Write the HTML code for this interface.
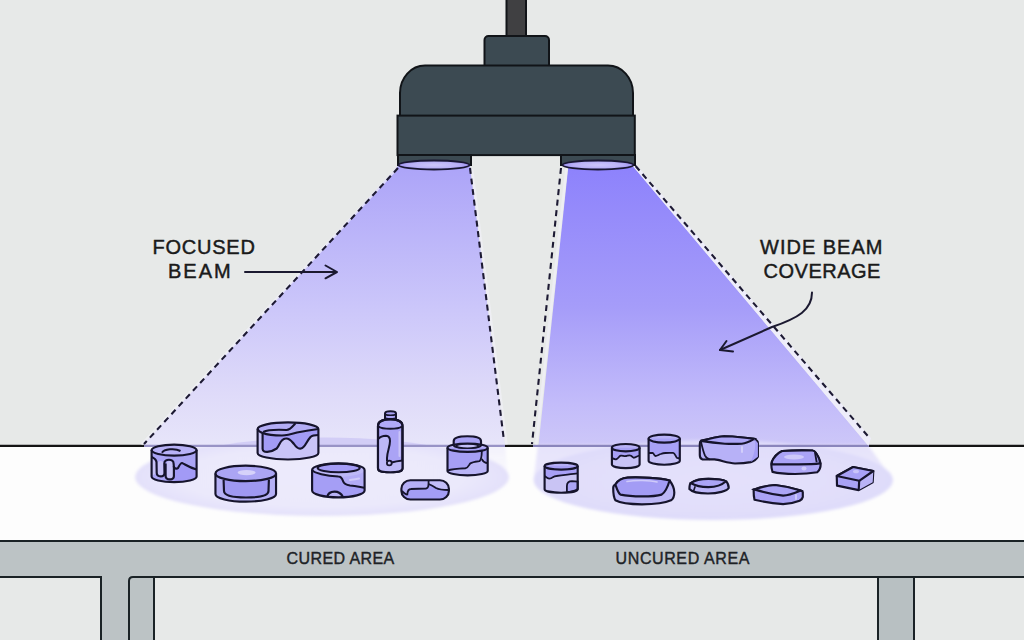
<!DOCTYPE html>
<html><head><meta charset="utf-8">
<style>
html,body{margin:0;padding:0;width:1024px;height:640px;overflow:hidden;background:#e7e9e8;}
svg{display:block;}
text{font-family:"Liberation Sans",sans-serif;}
</style></head>
<body>
<svg width="1024" height="640" viewBox="0 0 1024 640">
<defs>
  <linearGradient id="gL" x1="0" y1="166" x2="0" y2="446" gradientUnits="userSpaceOnUse">
    <stop offset="0" stop-color="#aca4f8"/>
    <stop offset="0.5" stop-color="#cbc6fa"/>
    <stop offset="0.82" stop-color="#dfdbf9"/>
    <stop offset="1" stop-color="#e7e5fa"/>
  </linearGradient>
  <linearGradient id="gR" x1="0" y1="166" x2="0" y2="446" gradientUnits="userSpaceOnUse">
    <stop offset="0" stop-color="#8d82fc"/>
    <stop offset="0.5" stop-color="#a59cf9"/>
    <stop offset="0.85" stop-color="#c3bcfa"/>
    <stop offset="1" stop-color="#cdc7f8"/>
  </linearGradient>
  <linearGradient id="extL" x1="0" y1="445" x2="0" y2="490" gradientUnits="userSpaceOnUse">
    <stop offset="0" stop-color="#ebe9fb"/>
    <stop offset="1" stop-color="#f0eefc" stop-opacity="0"/>
  </linearGradient>
  <linearGradient id="extR" x1="0" y1="445" x2="0" y2="490" gradientUnits="userSpaceOnUse">
    <stop offset="0" stop-color="#e6e3fb"/>
    <stop offset="1" stop-color="#eceafc"/>
  </linearGradient>
  <radialGradient id="lampG" cx="0.5" cy="0.5" r="0.5">
    <stop offset="0" stop-color="#cdc6fb"/>
    <stop offset="0.7" stop-color="#b9b0f7"/>
    <stop offset="1" stop-color="#9c92ee"/>
  </radialGradient>
  <radialGradient id="glowL" cx="0.5" cy="0.5" r="0.5">
    <stop offset="0" stop-color="#eceafc"/>
    <stop offset="0.75" stop-color="#ebe9fb"/>
    <stop offset="1" stop-color="#e3e0fa"/>
  </radialGradient>
  <radialGradient id="glowR" cx="0.5" cy="0.5" r="0.5">
    <stop offset="0" stop-color="#e4e1fb"/>
    <stop offset="0.8" stop-color="#e1defa"/>
    <stop offset="1" stop-color="#dedbfa"/>
  </radialGradient>
  <filter id="soft" x="-10%" y="-30%" width="120%" height="160%"><feGaussianBlur stdDeviation="1.5"/></filter>
</defs>

<!-- wall -->
<rect x="0" y="0" width="1024" height="640" fill="#e7e9e8"/>
<!-- table top -->
<rect x="0" y="445.5" width="1024" height="96" fill="#fdfdfd"/>
<!-- table band -->
<rect x="0" y="541" width="1024" height="36" fill="#bcc3c5"/>
<!-- legs -->
<rect x="101" y="576" width="53" height="70" fill="#bcc3c5"/>
<rect x="878" y="576" width="36" height="70" fill="#b8c0c2"/>
<g stroke="#1a2226" stroke-width="2" fill="none">
  <line x1="0" y1="541" x2="1024" y2="541"/>
  <path d="M0 577 H101 V640"/>
  <path d="M129 640 V581 Q129 577 133 577 H1024"/>
  <line x1="154" y1="577" x2="154" y2="640"/>
  <line x1="878" y1="577" x2="878" y2="640"/>
  <line x1="914" y1="577" x2="914" y2="640"/>
</g>

<!-- beams -->
<polygon points="398,166 470,166 505,445 143,445" fill="url(#gL)"/>
<polygon points="568.4,166 632.8,166 868.4,445.8 538.4,445.8" fill="url(#gR)"/>

<!-- glow on table -->
<g filter="url(#soft)">
  <path d="M170 445 L505 445 L508 478 L135 478 Z" fill="url(#extL)" opacity="0.6"/>
  <ellipse cx="322" cy="477" rx="187" ry="39" fill="url(#glowL)"/>
  <path d="M538 445 L868 445 L893 480 L533.5 480 Z" fill="url(#extR)"/>
  <ellipse cx="713.3" cy="480" rx="179.7" ry="40" fill="url(#glowR)"/>
</g>

<clipPath id="aboveL"><rect x="0" y="400" width="1024" height="45.5"/></clipPath>
<ellipse cx="325" cy="477" rx="175" ry="39.5" fill="#d2cdf6" clip-path="url(#aboveL)"/>
<!-- table line -->
<g stroke-width="2.2">
  <line x1="0" y1="445.9" x2="144" y2="445.9" stroke="#141414"/>
  <line x1="144" y1="445.9" x2="505" y2="445.9" stroke="#9893c6" stroke-width="2.2"/>
  <line x1="505" y1="445.9" x2="533" y2="445.9" stroke="#141414"/>
  <line x1="533" y1="445.9" x2="869" y2="445.9" stroke="#8a85bc" stroke-width="2.2"/>
  <line x1="869" y1="445.9" x2="1024" y2="445.9" stroke="#141414"/>
</g>

<!-- dashed beam edges -->
<polygon points="632.8,166 636.5,165 871,438.3 868.4,445.8" fill="#eeedfa"/>
<g stroke="#f1f1f8" stroke-width="2.5" fill="none" opacity="0.7">
  <line x1="396.5" y1="169" x2="141.5" y2="444.5"/>
  <line x1="472" y1="169" x2="506.5" y2="444.5"/>
  <line x1="566.5" y1="168" x2="536.2" y2="444.5"/>
</g>
<g stroke="#1d1a33" stroke-width="2.1" stroke-dasharray="6 4.6" fill="none">
  <line x1="398" y1="168" x2="144" y2="444"/>
  <line x1="470" y1="168" x2="504" y2="441"/>
  <line x1="561" y1="168" x2="532" y2="444"/>
  <line x1="635.6" y1="166" x2="869.8" y2="438.3"/>
</g>

<!-- lamp -->
<g stroke="#111418" stroke-width="2" fill="#3c4a52">
  <rect x="506.5" y="-4" width="19.5" height="42" fill="#404042"/>
  <rect x="484.5" y="36" width="64.5" height="34" rx="4"/>
  <path d="M400 116 V93 A25 27.5 0 0 1 425 65.5 H608 A25 27.5 0 0 1 633 93 V116 Z"/>
  <rect x="397.5" y="115.6" width="237.3" height="39.5"/>
  <rect x="398" y="155" width="73" height="10"/>
  <rect x="561" y="155" width="74" height="10"/>
</g>
<ellipse cx="434" cy="165" rx="35.5" ry="4.5" fill="url(#lampG)" stroke="#191632" stroke-width="1.8"/>
<ellipse cx="598" cy="165" rx="35.5" ry="4.5" fill="url(#lampG)" stroke="#191632" stroke-width="1.8"/>

<!-- objects -->
<path d="M151.6 450.1 L151.6 476.6 A22.5 5.5 0 0 0 196.6 476.6 L196.6 450.1 Z" fill="#aaa4f4"/><ellipse cx="174.1" cy="450.1" rx="22.5" ry="5.5" fill="#b8b2f7"/><path d="M151.6 457 C154 458 156 459 156.5 462 L156.7 473 L151.6 476 Z" fill="#c6c1f6"/>
<rect x="157.5" y="461" width="6.2" height="15" rx="3" fill="#c6c1f6"/>
<rect x="166.6" y="461" width="6.6" height="18" rx="3.2" fill="#c6c1f6"/>
<path d="M173.9 467 C175 469 177 469 178 468 C179 466 180.5 463 182 463 C185 464 188 467 196.6 469.5 L196.6 478 A22.5 6 0 0 1 174 482 Z" fill="#a29af6"/>
<path d="M151.6 457 C154 458 156 459 156.5 462 L156.7 473 C157 477.5 164.5 477.5 164.5 473 L164.3 463.5 C164.3 458.5 173.6 458.5 173.6 463.5 L173.9 467 C175 469 177 469 178 468 C179 466 180.5 463 182 463 C185 464 188 467 196.6 469.5" fill="none" stroke="#16142c" stroke-width="2.15"/>
<path d="M165.6 463.5 L165.6 476 C165.8 480.5 173.9 480.5 173.9 476 L173.9 466" fill="none" stroke="#16142c" stroke-width="2.15"/>
<path d="M162 452.8 C164 449 175 448 180.5 451" fill="none" stroke="#16142c" stroke-width="2"/><path d="M151.6 450.1 L151.6 476.6 A22.5 5.5 0 0 0 196.6 476.6 L196.6 450.1" fill="none" stroke="#16142c" stroke-width="2.15"/><ellipse cx="174.1" cy="450.1" rx="22.5" ry="5.5" fill="none" stroke="#16142c" stroke-width="2.15"/>
<path d="M215.45 473.4 L215.45 494.0 A30.3 7.7 0 0 0 276.05 494.0 L276.05 473.4 Z" fill="#b5b0f5"/><ellipse cx="245.75" cy="473.4" rx="30.3" ry="7.7" fill="#aba5f4"/><path d="M223.6 480 L224 491 C224 496 235 497.5 246 497.5 C258 497.5 268.5 496 268.5 491 L268.9 479.5" fill="#9f98f2" stroke="#16142c" stroke-width="2.15"/>
<ellipse cx="246.6" cy="472.6" rx="9" ry="2.6" fill="#d6d2fa"/><path d="M215.45 473.4 L215.45 494.0 A30.3 7.7 0 0 0 276.05 494.0 L276.05 473.4" fill="none" stroke="#16142c" stroke-width="2.15"/><ellipse cx="245.75" cy="473.4" rx="30.3" ry="7.7" fill="none" stroke="#16142c" stroke-width="2.15"/>
<path d="M257.6 429.0 L257.6 452.9 A30.4 6.6 0 0 0 318.4 452.9 L318.4 429.0 Z" fill="#c9c4f7"/><ellipse cx="288" cy="429.0" rx="30.4" ry="6.6" fill="#b3adf5"/><path d="M257.6 429 C258 431 260 432 262.6 433 L262.6 449 C263 453 270 453 276.7 448.5 C280 445 280 439 285.7 438.5 C290 438 292 442 294 444 C296 447 299 449 301 448.5 C305 448 306 442 310.5 437 C312 435.5 315 435 318.4 435 L318.4 429 C310 430 302 431.5 297 432.5 C292 434 286 435.5 282 435.5 C275 435.5 268 435 262.6 433 Z" fill="#a39cf6"/>
<path d="M262.6 433 L262.6 449 C263 453 270 453 276.7 448.5 C280 445 280 439 285.7 438.5 C290 438 292 442 294 444 C296 447 299 449 301 448.5 C305 448 306 442 310.5 437 C312 435.5 315 435 318.4 435" fill="none" stroke="#16142c" stroke-width="2.15"/>
<path d="M257.6 429 C258 431 260 432 262.6 433 C268 435 275 435.5 282 435.5 C286 435.5 292 434 297 432.5 C302 431.5 310 430 318.4 429" fill="none" stroke="#16142c" stroke-width="2.15"/>
<path d="M263.2 432 C268 429.5 276 429.5 286.5 430 C290 430 293 426 295.5 423.3" fill="none" stroke="#16142c" stroke-width="2"/><path d="M257.6 429.0 L257.6 452.9 A30.4 6.6 0 0 0 318.4 452.9 L318.4 429.0" fill="none" stroke="#16142c" stroke-width="2.15"/><path d="M257.6 429.0 A30.4 6.6 0 0 1 318.4 429.0" fill="none" stroke="#16142c" stroke-width="2.15"/>
<path d="M312.1 470.0 L312.1 490.59999999999997 A26.25 6.8 0 0 0 364.6 490.59999999999997 L364.6 470.0 Z" fill="#b3acf7"/><ellipse cx="338.35" cy="470.0" rx="26.25" ry="6.8" fill="#bdb8f7"/><path d="M312.1 470 C314 473 326 476 338.4 476.5 C341 476.5 342 478 343 481 C344 484 346 485 350 485.5 C356 486 360 487 364.6 487.7 L364.6 490.6 A26.25 6.8 0 0 1 312.1 490.6 Z" fill="#a59ef5"/>
<path d="M312.1 470 C314 473 326 476 338.4 476.5 C341 476.5 342 478 343 481 C344 484 346 485 350 485.5 C356 486 360 487 364.6 487.7" fill="none" stroke="#16142c" stroke-width="2.15"/>
<path d="M327.2 497 C328 493 331 491.6 334.5 491.6 C338 491.6 341 493 343 497" fill="#b9b3f6" stroke="#16142c" stroke-width="2.15"/>
<ellipse cx="338.7" cy="467.9" rx="21" ry="4.3" fill="#a49cf6" stroke="#16142c" stroke-width="2.15"/>
<path d="M350 480 C354 479.5 357 479 359 478.5" stroke="#cfcafa" stroke-width="2" stroke-linecap="round" fill="none"/><path d="M312.1 470.0 L312.1 490.59999999999997 A26.25 6.8 0 0 0 364.6 490.59999999999997 L364.6 470.0" fill="none" stroke="#16142c" stroke-width="2.15"/><path d="M312.1 470.0 A26.25 6.8 0 0 1 364.6 470.0" fill="none" stroke="#16142c" stroke-width="2.15"/>
<path d="M378 426 C378 421.5 383 419.4 390.2 419.4 C397.5 419.4 402.5 421.5 402.5 426 L402.5 468.2 C402.5 471 400 472.2 390.2 472.2 C380.5 472.2 378 471 378 468.2 Z" fill="#aaa3f5" stroke="#16142c" stroke-width="2.15"/>
<path d="M378.5 426.5 C381 428.4 386 428.8 390.2 428.8 C394.5 428.8 399.5 428.4 402 426.5 C400 422 395 420.5 390.2 420.5 C385 420.5 380 422 378.5 426.5 Z" fill="#b0a9f7"/>
<rect x="398.5" y="431" width="2" height="26" rx="1" fill="#c9c4f8"/>
<path d="M378 439.2 C380 437 384 435.8 386 435.8 C389 436 390 438 390 441 C390 447 387 452 387 458 L387 462 C387 465 391 465.5 392 463 C395 462 398 461 402.5 460.5 L402.5 468 C402 471 395 472 390 472 C384 472 378 471 378 468 Z" fill="#bdb8f7"/>
<path d="M378 439.2 C380 437 384 435.8 386 435.8 C389 436 390 438 390 441 C390 447 387 452 387 458 L387 461" fill="none" stroke="#16142c" stroke-width="2"/>
<circle cx="389.3" cy="463" r="2.4" fill="#c9c4f8" stroke="#16142c" stroke-width="1.8"/>
<path d="M391.6 462.5 C395 461.5 398 461 402.5 460.5" fill="none" stroke="#16142c" stroke-width="2"/>
<path d="M378.5 426.5 C381 428.4 386 428.8 390.2 428.8 C394.5 428.8 399.5 428.4 402 426.5" fill="none" stroke="#16142c" stroke-width="2"/>
<path d="M385 419.6 L385 413.5 C385 411.8 387 411.3 390.5 411.3 C394 411.3 396 411.8 396 413.5 L396 419.6" fill="#aaa3f5" stroke="#16142c" stroke-width="2"/>
<path d="M385.5 414.5 C387 415.5 394 415.5 395.5 414.5" fill="none" stroke="#16142c" stroke-width="1.6"/>
<path d="M386 418.2 C388 419 393 419 395 418.2" fill="none" stroke="#16142c" stroke-width="1.4"/>
<path d="M378 426 C378 421.5 383 419.4 390.2 419.4 C397.5 419.4 402.5 421.5 402.5 426 L402.5 468.2 C402.5 471 400 472.2 390.2 472.2 C380.5 472.2 378 471 378 468.2 Z" fill="none" stroke="#16142c" stroke-width="2.15"/>
<rect x="401.4" y="480.2" width="47.5" height="19.3" rx="9" ry="8.5" fill="#a39df5"/>
<path d="M402 491 C404 493 406 495 407.3 494.5 C407.5 491 408.5 489 411 489 L426 488.5 C428.5 488 428.6 486 428.6 481 L428.6 481 C420 480.5 410 480.5 405 482 C402 484 401.5 487 402 491 Z" fill="#b5aff6"/>
<path d="M428.6 484 C431 485 433 486 436 488 C439 489.6 444 490 448.5 490 L448.5 488 C448 484 446 481 440 480.5 L428.6 480.5 Z" fill="#c2bdf8"/>
<path d="M402 491 C404 493 406 495 407.3 494.5 C407.5 491 408.5 489 411 489 L426 488.5 C428.5 488 428.6 486 428.6 481" fill="none" stroke="#16142c" stroke-width="1.8"/>
<path d="M428.6 484 C431 485 433 486 436 488 C439 489.6 444 490 448.5 490" fill="none" stroke="#16142c" stroke-width="1.8"/>
<rect x="401.4" y="480.2" width="47.5" height="19.3" rx="9" ry="8.5" fill="none" stroke="#16142c" stroke-width="2.15"/>
<path d="M447.5 447.7 L447.5 471.1 A20.1 4.2 0 0 0 487.70000000000005 471.1 L487.70000000000005 447.7 Z" fill="#b9b4f6"/><ellipse cx="467.6" cy="447.7" rx="20.1" ry="4.2" fill="#b8b2f6"/><path d="M447.5 447.7 L447.5 470.6 C452 469 460 468.5 465.4 468.25 C468 468 469 465 470.1 463.6 C473 461.5 477 461.5 479.5 461.2 C481 460 481.8 457 481.8 452.6 C484 458 485 463 487.7 463.2 L487.7 447.7 Z" fill="#a69ff5"/>
<path d="M447.5 470.6 C452 469 460 468.5 465.4 468.25 C468 468 469 465 470.1 463.6 C473 461.5 477 461.5 479.5 461.2 C481 460 481.8 457 481.8 451" fill="none" stroke="#16142c" stroke-width="1.8"/>
<path d="M481.8 459 C483 461.5 485 463 487.7 463.2" fill="none" stroke="#16142c" stroke-width="1.8"/>
<path d="M453.7 441 C453.7 437.5 460 436.2 467.35 436.2 C474.7 436.2 481 437.5 481 441 L481 445 C481 447 474 448 467.35 448 C460.7 448 453.7 447 453.7 445 Z" fill="#a9a2f5" stroke="#16142c" stroke-width="2.15"/>
<ellipse cx="467.35" cy="446" rx="11" ry="2.2" fill="#c3bef8" stroke="#16142c" stroke-width="1.6"/><path d="M447.5 447.7 L447.5 471.1 A20.1 4.2 0 0 0 487.70000000000005 471.1 L487.70000000000005 447.7" fill="none" stroke="#16142c" stroke-width="2.15"/><ellipse cx="467.6" cy="447.7" rx="20.1" ry="4.2" fill="none" stroke="#16142c" stroke-width="2.15"/>
<path d="M544.6 466.1 L544.6 489.2 A16.55 3.5 0 0 0 577.6999999999999 489.2 L577.6999999999999 466.1 Z" fill="#c9c4f4"/><ellipse cx="561.15" cy="466.1" rx="16.55" ry="3.5" fill="#b5aff7"/><path d="M544.6 466 L544.6 476 C546 477 548 478.6 549.2 478.6 C551 478.6 552 478 552.4 477.5 C554 476.5 555 476 556.4 476 C565 475 572 474 577.7 473.4 L577.7 466 Z" fill="#a8a0f6"/>
<path d="M544.6 476 C546 477 548 478.6 549.2 478.6 C551 478.6 552 478 552.4 477.5 C554 476.5 555 476 556.4 476 C565 475 572 474 577.7 473.4" fill="none" stroke="#16142c" stroke-width="1.8"/>
<path d="M566.9 492 L566.9 486 C566.9 482.5 569 481.2 572 481.2 L577.7 481.5 L577.7 489 C575 491 571 492 566.9 492 Z" fill="#aba4f5" stroke="#16142c" stroke-width="1.8"/><path d="M544.6 466.1 L544.6 489.2 A16.55 3.5 0 0 0 577.6999999999999 489.2 L577.6999999999999 466.1" fill="none" stroke="#16142c" stroke-width="2.15"/><ellipse cx="561.15" cy="466.1" rx="16.55" ry="3.5" fill="none" stroke="#16142c" stroke-width="2.15"/>
<path d="M611.9 447.7 L611.9 464.5 A13.85 3.7 0 0 0 639.6 464.5 L639.6 447.7 Z" fill="#c7c2f6"/><ellipse cx="625.75" cy="447.7" rx="13.85" ry="3.7" fill="#b8b2f7"/><path d="M611.9 447.7 L611.9 458 C614 459 615 459.5 616.2 459.25 C618 459 619 456 620.8 455.7 C623 455.5 624 456.5 626.3 456 C628 455.7 629.5 455 631 455.7 C632.5 456.5 633 458 634.1 457.7 C636 457.5 637 456 639.6 455.7 L639.6 447.7 Z" fill="#a7a0f5"/>
<path d="M611.9 458 C614 459 615 459.5 616.2 459.25 C618 459 619 456 620.8 455.7 C623 455.5 624 456.5 626.3 456 C628 455.7 629.5 455 631 455.7 C632.5 456.5 633 458 634.1 457.7 C636 457.5 637 456 639.6 455.7" fill="none" stroke="#16142c" stroke-width="1.8"/><path d="M611.9 447.7 L611.9 464.5 A13.85 3.7 0 0 0 639.6 464.5 L639.6 447.7" fill="none" stroke="#16142c" stroke-width="2.15"/><ellipse cx="625.75" cy="447.7" rx="13.85" ry="3.7" fill="none" stroke="#16142c" stroke-width="2.15"/>
<path d="M648.6 438.6 L648.6 460.7 A15.6 4.0 0 0 0 679.8000000000001 460.7 L679.8000000000001 438.6 Z" fill="#c4bff6"/><ellipse cx="664.2" cy="438.6" rx="15.6" ry="4.0" fill="#b8b2f7"/><path d="M648.6 438.6 L648.6 453 L652.9 453 C654 453.5 654 456 655.5 456 C657 456 659 454.5 660.7 454 C662 453.5 664 453 665.4 453 C668 453 671 452.9 673.2 452.9 C675 453 676 457.5 677.1 458 L679.8 458.5 L679.8 438.6 Z" fill="#a8a1f6"/>
<path d="M648.6 453 L652.9 453 C654 453.5 654 456 655.5 456 C657 456 659 454.5 660.7 454 C662 453.5 664 453 665.4 453 C668 453 671 452.9 673.2 452.9 C675 453 676 457.5 677.1 458 L679.8 458.5" fill="none" stroke="#16142c" stroke-width="1.8"/><path d="M648.6 438.6 L648.6 460.7 A15.6 4.0 0 0 0 679.8000000000001 460.7 L679.8000000000001 438.6" fill="none" stroke="#16142c" stroke-width="2.15"/><ellipse cx="664.2" cy="438.6" rx="15.6" ry="4.0" fill="none" stroke="#16142c" stroke-width="2.15"/>
<path d="M615.4 484.5 C618 480 622 478 627.7 477.6 C640 477 660 478 669.6 480.5 C673 485 674.3 488 674.3 492.4 C674.3 496 673 499 671 500.3 C664 503.5 652 504.3 642 504.3 C630 504.3 620 503 615.4 500.3 C613.5 497 613.2 492 613.2 488 C613.2 486 614 485 615.4 484.5 Z" fill="#bcb7f5" stroke="#16142c" stroke-width="2.15"/>
<path d="M615.4 484.5 C617 489 618 493 620.5 494.6 C627 496 636 496.4 642 496.4 C650 496.4 657 496 661.6 494.6 C666 492 668 486 669.6 480.5 C660 478 640 477 627.7 477.6 C622 478 618 480 615.4 484.5 Z" fill="#a39cf5" stroke="#16142c" stroke-width="2.15"/>
<path d="M627 481.5 C635 480 650 480 657 482" fill="none" stroke="#cfcbfa" stroke-width="1.6" stroke-linecap="round"/>
<path d="M700.8 440.9 C708 439 716 437 724.1 436.2 C735 436.5 746 437.5 754.2 438.9 C757 440 757.9 441.5 757.9 443 L757.9 456.7 C756 460 753 461.5 750.7 462.1 C745 463.3 740 463.5 735 463.5 C728 463 720 460 714.5 459.4 C710 459.4 705 459.6 702.5 459.4 C700.5 459 699.8 457.5 699.8 455 L699.8 444 C699.8 442 700.2 441.2 700.8 440.9 Z" fill="#b7b1f7" stroke="#16142c" stroke-width="2.15"/>
<path d="M700.8 440.9 C708 439 716 437 724.1 436.2 C735 436.5 746 437.5 754.2 438.9 C750 441.5 746 443.5 741.8 443.7 C736 444 730 444 724.8 443.7 C716 443 708 442 700.8 440.9 Z" fill="#aca5f6" stroke="#16142c" stroke-width="2.15"/>
<path d="M700.8 441 C702 446 703 451 704.9 455.3 C706 457.5 707.5 459 709.7 459.4" fill="none" stroke="#16142c" stroke-width="1.8"/>
<path d="M754.2 438.9 C756.5 445 755 452 750.7 462.1 L757.9 456.7 L757.9 443 Z" fill="#a59ef6"/>
<path d="M742 447 L742 452" stroke="#d2cefa" stroke-width="2" stroke-linecap="round"/>
<path d="M771.9 461.6 C774 457 778 453 782.2 451 C792 450.3 805 450.3 812.5 450.5 C814 450.7 815 451.5 816 453 C818 456 820 460 820.7 463.4 C820.7 467 820 470 817.3 472.2 C810 473.5 800 474 795 474 C788 474 780 473.8 772.5 471.9 C771.5 469 771.3 466 771.3 464 Z" fill="#aea7f6" stroke="#16142c" stroke-width="2.15"/>
<path d="M771.9 461.6 C774 457 778 453 782.2 451 C792 450.3 805 450.3 812.5 450.5 C814 450.7 815 451.5 816 453 C818 456 820 460 820 463.4 C812 464.5 800 464.3 794.3 464.3 C786 464.3 778 464.3 771.9 464.3 Z" fill="#aaa3f6" stroke="#16142c" stroke-width="2.15"/>
<path d="M814.9 452.2 C815.5 455 816 459 816.7 462.2" fill="none" stroke="#16142c" stroke-width="1.8"/>
<ellipse cx="794" cy="457" rx="10" ry="2.6" fill="#cdc8fa"/>
<ellipse cx="804" cy="468.5" rx="2.5" ry="2" fill="#cfcafa"/>
<path d="M690.8 483 C695 480 702 478.8 708.4 478.8 C716 478.8 723 479.5 726 481.3 C728 483 728.7 485 728.7 488 C727 491 718 493.5 708 493.5 C700 493.5 692 492 689.4 489 C689.4 486 689.8 484 690.8 483 Z" fill="#bbb5f7" stroke="#16142c" stroke-width="2.15"/>
<path d="M690.8 483 C695 480 702 478.8 708.4 478.8 C716 478.8 723 479.5 726 481.3 C722 485 716 487.1 708.4 487.1 C700 487.1 694 485 690.8 483 Z" fill="#aba4f6" stroke="#16142c" stroke-width="2.15"/>
<path d="M695.2 486.2 L693.5 491.3" stroke="#16142c" stroke-width="1.6"/>
<path d="M754.4 489.4 C761 487 768 485.5 775 485 C784 486 793 488 800.7 490.6 C802 491 802.8 491.5 802.8 492 L802.8 497 C802.5 499 801 500 799.6 500.8 C794 503 788 504.1 783.1 504.1 C773 503.5 762 501.5 754.5 499.7 C753.8 497 753.6 493 753.6 489.5 Z" fill="#aaa3f6" stroke="#16142c" stroke-width="2.15"/>
<path d="M754.4 489.4 C761 487 768 485.5 775 485 C784 486 793 488 800.7 490.6 C795 493 789 495.6 783.1 495.6 C773 494.5 763 492 754.4 489.4 Z" fill="#aca5f6" stroke="#16142c" stroke-width="2.15"/>
<path d="M796 495 L796 499" stroke="#d0ccfa" stroke-width="1.8" stroke-linecap="round"/>
<path d="M836.75 476 L853.1 467 L873.3 471 L872.7 482.2 L858.7 490.1 L837 485.6 Z" fill="#a9a2f5" stroke="#16142c" stroke-width="2.15" stroke-linejoin="round"/>
<path d="M859.2 480.8 L873.3 471 L872.7 482.2 L858.7 490.1 Z" fill="#b9b3f6"/>
<path d="M836.75 476 L853.1 467 L873.3 471 L859.2 480.8 Z" fill="#a8a1f6" stroke="#16142c" stroke-width="2.15" stroke-linejoin="round"/>
<path d="M859.2 480.8 L858.7 490.1" stroke="#16142c" stroke-width="2.15"/>
<ellipse cx="856" cy="471.5" rx="3" ry="1.8" fill="#c9c4fa"/>

<!-- labels -->
<g fill="#1a1a1a" stroke="#1a1a1a" stroke-width="0.45" font-size="20">
  <text x="152.6" y="254" letter-spacing="0.75">FOCUSED</text>
  <text x="168" y="277.8" letter-spacing="2">BEAM</text>
  <text x="760" y="254" letter-spacing="1">WIDE BEAM</text>
  <text x="763.6" y="278" letter-spacing="0.5">COVERAGE</text>
</g>
<g fill="#1d2226" stroke="#1d2226" stroke-width="0.4" font-size="16">
  <text x="286.6" y="564" letter-spacing="0.4">CURED AREA</text>
  <text x="615.6" y="564" letter-spacing="0.6">UNCURED AREA</text>
</g>

<!-- arrows -->
<g stroke="#1b1930" stroke-width="2" fill="none" stroke-linecap="round" stroke-linejoin="round">
  <path d="M245 272 H336"/>
  <path d="M325.5 265.5 L337 272 L325.5 278.3"/>
  <path d="M812 292.5 C812 310 798 318 772 327 L720 350"/>
  <path d="M726.5 341 L720 350 L733 351.5"/>
</g>

</svg>
</body></html>
